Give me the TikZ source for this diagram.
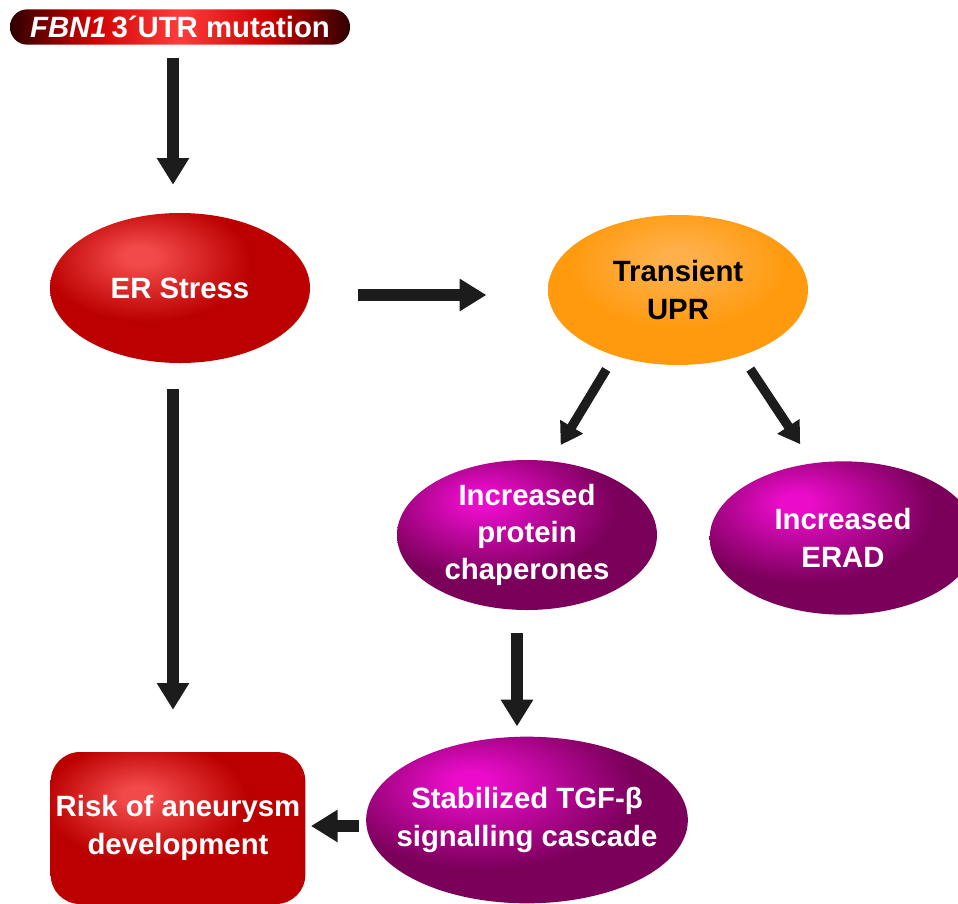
\documentclass[tikz,border=0pt]{standalone}
\usepackage{fontspec}
\setmainfont{Liberation Sans}
\usetikzlibrary{arrows.meta,shapes.geometric}

\definecolor{arrowgray}{HTML}{1C1C1C}
\definecolor{redhi}{HTML}{F24A4A}
\definecolor{redbase}{HTML}{BC0000}
\definecolor{pillhi}{HTML}{FF3C3C}
\definecolor{pillmid}{HTML}{D00000}
\definecolor{pilldark}{HTML}{2E0000}
\definecolor{orangehi}{HTML}{FFB04A}
\definecolor{orangebase}{HTML}{FF9A0E}
\definecolor{pinkhi}{HTML}{EA0CCA}
\definecolor{pinkbase}{HTML}{7A005A}

\pgfdeclareradialshading{redglow}{\pgfpoint{-8bp}{11bp}}{color(0bp)=(redhi); color(3bp)=(redhi); color(20bp)=(redbase); color(100bp)=(redbase)}
\pgfdeclarehorizontalshading{pillglow}{100bp}{color(0bp)=(pilldark); color(25bp)=(pilldark); color(37bp)=(pillmid); color(50bp)=(pillhi); color(63bp)=(pillmid); color(75bp)=(pilldark); color(100bp)=(pilldark)}
\pgfdeclareradialshading{orangeglow}{\pgfpoint{0bp}{10bp}}{color(0bp)=(orangehi); color(4bp)=(orangehi); color(21bp)=(orangebase); color(100bp)=(orangebase)}
\pgfdeclareradialshading{pinkglow}{\pgfpoint{-9bp}{12bp}}{color(0bp)=(pinkhi); color(3bp)=(pinkhi); color(24bp)=(pinkbase); color(100bp)=(pinkbase)}

\begin{document}
\begin{tikzpicture}[x=0.75pt,y=-0.75pt,
		every node/.style={font=\fontsize{22}{28}\selectfont\bfseries,align=center,inner sep=0pt},
		pill/.style={rectangle,rounded corners=13pt,minimum width=255pt,minimum height=26.5pt,shading=pillglow,text=white},
		redoval/.style={ellipse,minimum width=195pt,minimum height=112.5pt,shading=redglow,text=white},
		orangeoval/.style={ellipse,minimum width=195pt,minimum height=112.5pt,shading=orangeglow,text=black},
		pinkoval/.style={ellipse,minimum width=195pt,minimum height=112.5pt,shading=pinkglow,text=white},
		redbox/.style={rectangle,rounded corners=22pt,minimum width=191pt,minimum height=114pt,shading=redglow,text=white},
		bigarrow/.style={draw=arrowgray,line width=8.5pt,-{Triangle[width=23pt,length=20pt]},arrowgray},
		slantarrow/.style={draw=arrowgray,line width=7pt,-{Triangle[width=19pt,length=16pt]},arrowgray}]
		\useasboundingbox (0,0) rectangle (958,904);
		% boxes and ovals
		\node[pill] (mut) at (180,27) {\textit{FBN1}\,3´UTR mutation};
		\node[redoval] (er) at (180,288) {ER Stress};
		\node[orangeoval] (upr) at (678,290) {Transient\\UPR};
		\node[pinkoval] (chap) at (527,535) {Increased\\protein\\chaperones};
		\node[pinkoval,minimum width=200pt,minimum height=115pt] (erad) at (843,538) {Increased\\ERAD};
		\node[pinkoval,inner xsep=-12.5pt,minimum width=240pt,minimum height=125pt] (tgf) at (527,820) {Stabilized TGF-β\\signalling cascade};
		\node[redbox] (risk) at (178,828) {Risk of aneurysm\\development};
		% arrows
		\draw[bigarrow,shorten <=9.75pt,shorten >=21pt] ([xshift=-5.25pt]mut.south) -- ([xshift=-5.25pt]er.north);
		\draw[bigarrow,shorten <=36pt,shorten >=46pt] ([yshift=-5.25pt]er.east) -- ([yshift=-5.25pt]er.east -| upr.west);
		\draw[bigarrow,shorten <=19.5pt,shorten >=31.5pt] ([xshift=-5.25pt]er.south) -- ([xshift=-5.25pt]er.south |- risk.north);
		\draw[slantarrow,shorten <=12pt,shorten >=14pt] (upr.226) -- (chap.72);
		\draw[slantarrow,shorten <=12pt,shorten >=17pt] (upr.314) -- (erad.112);
		\draw[bigarrow,shorten <=17pt,shorten >=7.5pt] ([xshift=-7.5pt]chap.south) -- ([xshift=-7.5pt]chap.south |- tgf.north);
		\draw[bigarrow,shorten <=5pt,shorten >=4pt] ([yshift=-4.5pt]tgf.west) -- ([yshift=-4.5pt]tgf.west -| risk.east);
\end{tikzpicture}
\end{document}
